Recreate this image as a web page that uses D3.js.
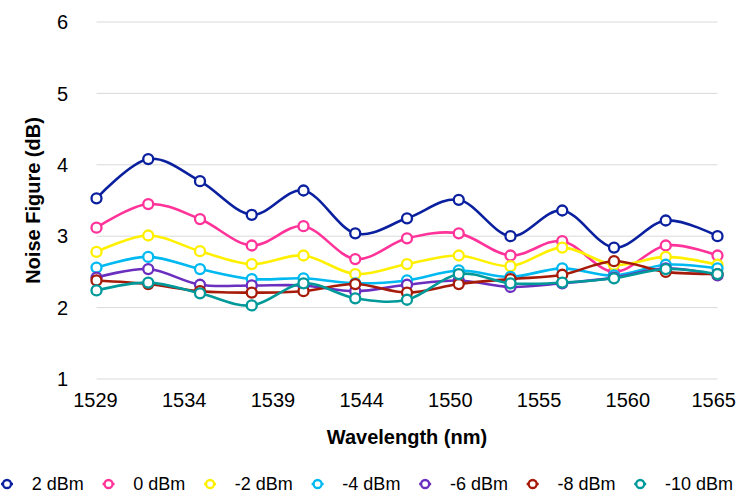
<!DOCTYPE html>
<html><head><meta charset="utf-8">
<script src="https://cdn.jsdelivr.net/npm/d3@7"></script>
<style>body{margin:0;background:#fff}svg{display:block;font-family:"Liberation Sans",Arial,sans-serif}</style>
</head><body><svg id="c" width="737" height="494"></svg>
<script>
const wavelengths = [1529,1532,1535,1538,1541,1544,1547,1550,1553,1556,1559,1562,1565];
const seriesNames = ["2 dBm","0 dBm","-2 dBm","-4 dBm","-6 dBm","-8 dBm","-10 dBm"];
const seriesColors = ["#0A209E","#FF3399","#FFF000","#00B9F1","#6B2FBF","#A61A0A","#00999A"];
const nf2   = [3.53,4.08,3.77,3.30,3.64,3.04,3.25,3.51,3.00,3.36,2.84,3.22,3.00];
const nf0   = [3.12,3.45,3.24,2.87,3.14,2.68,2.97,3.04,2.73,2.93,2.50,2.87,2.73];
const nfm2  = [2.78,3.01,2.79,2.61,2.73,2.47,2.61,2.73,2.58,2.84,2.60,2.71,2.60];
const nfm4  = [2.56,2.71,2.54,2.40,2.41,2.34,2.38,2.52,2.43,2.55,2.45,2.60,2.55];
const nfm6  = [2.42,2.54,2.32,2.31,2.31,2.23,2.32,2.38,2.29,2.34,2.42,2.55,2.45];
const nfm8  = [2.38,2.33,2.23,2.21,2.23,2.33,2.21,2.33,2.40,2.46,2.65,2.50,2.47];
const nfm10 = [2.24,2.35,2.20,2.03,2.34,2.13,2.11,2.47,2.34,2.35,2.41,2.54,2.47];
const yTicks = [1,2,3,4,5,6];
const xTickLabels = ["1529","1534","1539","1544","1550","1555","1560","1565"];

const allSeries = [nf2,nf0,nfm2,nfm4,nfm6,nfm8,nfm10];
const svg = d3.select("#c");
const W = 737;
const x = d3.scaleLinear().domain([1529,1565]).range([96.5,717.5]);
const y = d3.scaleLinear().domain([1,6]).range([379,22]);

// gridlines
svg.append("g").selectAll("line").data(yTicks).join("line")
  .attr("x1",x.range()[0]).attr("x2",x.range()[1])
  .attr("y1",d=>y(d)).attr("y2",d=>y(d))
  .attr("stroke","#d9d9d9").attr("stroke-width",1);

// y tick labels
svg.append("g").selectAll("text").data(yTicks).join("text")
  .attr("x",68).attr("y",d=>y(d)).attr("dy","0.36em")
  .attr("text-anchor","end").attr("font-size",20).attr("fill","#000")
  .text(d=>d);

// x tick labels (kept inside the canvas)
const xTickVals = xTickLabels.map((t,i)=>1529 + i*(1565-1529)/(xTickLabels.length-1));
svg.append("g").selectAll("text").data(xTickLabels).join("text")
  .attr("y",407)
  .attr("text-anchor","middle").attr("font-size",20).attr("fill","#000")
  .text(d=>d)
  .attr("x",function(d,i){
    const w = this.getComputedTextLength();
    return Math.min(x(xTickVals[i])-1, W - 1 - w/2);
  });

// axis titles
svg.append("text").attr("x",(x.range()[0]+x.range()[1])/2).attr("y",444)
  .attr("text-anchor","middle").attr("font-size",20).attr("font-weight","bold")
  .text("Wavelength (nm)");
svg.append("text").attr("transform",`translate(40,${(y(1)+y(6))/2}) rotate(-90)`)
  .attr("text-anchor","middle").attr("font-size",20).attr("font-weight","bold")
  .text("Noise Figure (dB)");

// lines
const line = d3.line().x((d,i)=>x(wavelengths[i])).y(d=>y(d)).curve(d3.curveCatmullRom.alpha(0));
const g = svg.append("g");
allSeries.forEach((s,k)=>{
  const sg = g.append("g");
  sg.append("path").attr("d",line(s)).attr("fill","none")
    .attr("stroke",seriesColors[k]).attr("stroke-width",2.6);
  sg.selectAll("circle").data(s).join("circle")
    .attr("cx",(d,i)=>x(wavelengths[i])).attr("cy",d=>y(d)).attr("r",5)
    .attr("fill","#fff").attr("stroke",seriesColors[k]).attr("stroke-width",2.3);
});

// legend: first symbol centre at 7, last text end at 733
const lg = svg.append("g");
const ly = 484, firstSym = 7, lastEnd = 733;
const items = seriesNames.map((n,k)=>{
  const it = lg.append("g");
  it.append("line").attr("x1",-6).attr("x2",6).attr("y1",0).attr("y2",0)
    .attr("stroke",seriesColors[k]).attr("stroke-width",2.5);
  it.append("circle").attr("r",4).attr("fill","#fff").attr("stroke",seriesColors[k]).attr("stroke-width",2.3);
  const t = it.append("text").attr("dy","0.36em").attr("font-size",18).text(n);
  return {g:it, t:t, w:t.node().getComputedTextLength()};
});
const sumW = d3.sum(items, o=>o.w);
const gap = (lastEnd - firstSym - sumW) / (2*items.length - 1);
let cursor = firstSym;
items.forEach(o=>{
  o.g.attr("transform",`translate(${cursor},${ly})`);
  o.t.attr("x",gap);
  cursor += gap + o.w + gap;
});
</script></body></html>
